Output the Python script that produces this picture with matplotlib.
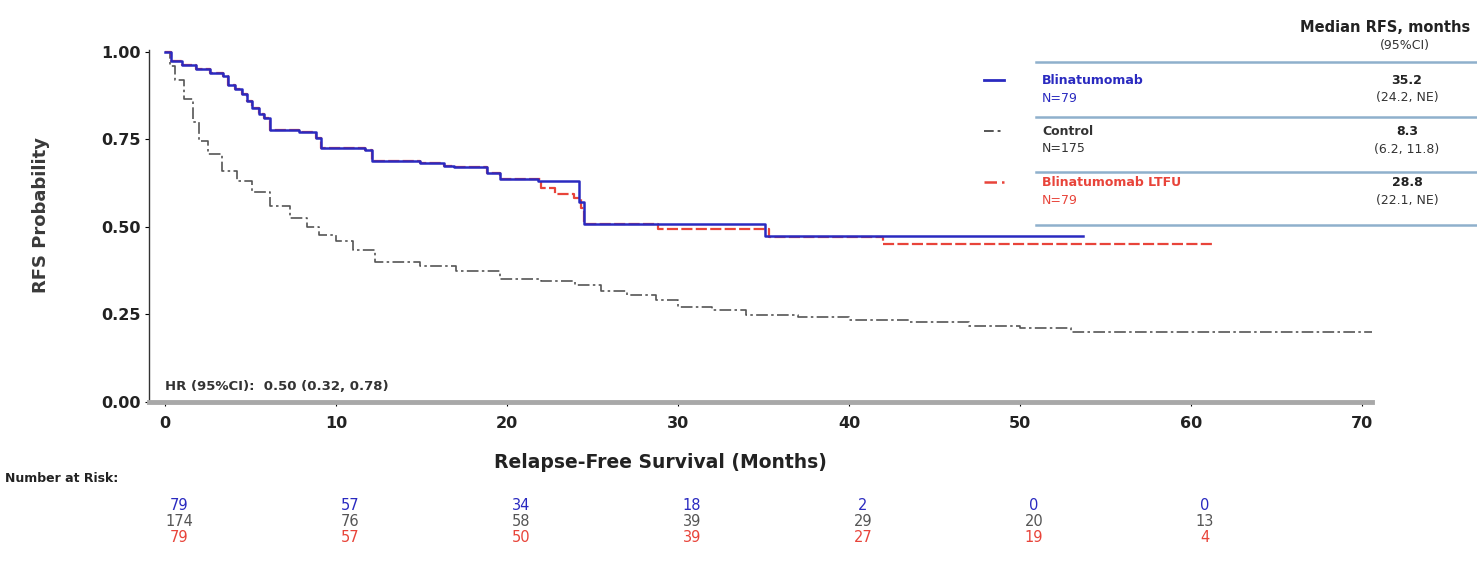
import matplotlib.pyplot as plt
from matplotlib.lines import Line2D

plt.rcParams['font.family'] = ['DejaVu Sans']

# Kaplan-Meier steps (months, RFS probability)
blina_t = [0, 0.35, 1.0, 1.8, 2.6, 3.4, 3.7, 4.1, 4.5, 4.8, 5.1, 5.5, 5.8, 6.1, 7.8, 8.8, 9.1,
           11.7, 12.1, 14.9, 16.3, 16.9, 18.8, 19.6, 21.8, 24.2, 24.5, 35.1, 53.7]
blina_s = [1.0, 0.975, 0.962, 0.95, 0.94, 0.93, 0.906, 0.893, 0.88, 0.86, 0.84, 0.823, 0.81,
           0.778, 0.772, 0.753, 0.724, 0.72, 0.688, 0.682, 0.675, 0.67, 0.655, 0.636, 0.631,
           0.57, 0.508, 0.475, 0.475]

ltfu_t = [0, 0.35, 1.0, 1.8, 2.6, 3.4, 3.7, 4.1, 4.5, 4.8, 5.1, 5.5, 5.8, 6.1, 7.8, 8.8, 9.1,
          11.7, 12.1, 14.9, 16.3, 16.9, 18.8, 19.6, 22.0, 22.8, 23.9, 24.35, 24.5,
          28.8, 35.3, 42.0, 61.4]
ltfu_s = [1.0, 0.975, 0.962, 0.95, 0.94, 0.93, 0.906, 0.893, 0.88, 0.86, 0.84, 0.823, 0.81,
          0.778, 0.772, 0.753, 0.724, 0.72, 0.688, 0.682, 0.675, 0.67, 0.655, 0.636, 0.611,
          0.594, 0.582, 0.554, 0.508, 0.494, 0.47, 0.45, 0.45]

ctrl_t = [0, 0.25, 0.6, 1.1, 1.6, 2.0, 2.5, 3.3, 4.2, 5.1, 6.1, 7.3, 8.3, 9.0, 10.0,
          11.0, 12.3, 14.9, 17.0, 19.6, 22.0, 24.0, 25.5, 27.0, 28.7, 30.0, 32.0, 34.0,
          37.0, 40.0, 43.5, 47.0, 50.0, 53.0, 70.8]
ctrl_s = [1.0, 0.96, 0.92, 0.866, 0.80, 0.745, 0.707, 0.66, 0.63, 0.60, 0.56, 0.526, 0.50,
          0.478, 0.46, 0.435, 0.40, 0.387, 0.375, 0.352, 0.345, 0.335, 0.318, 0.305, 0.29,
          0.272, 0.262, 0.247, 0.243, 0.233, 0.227, 0.217, 0.21, 0.20, 0.20]

risk_times = [0, 10, 20, 30, 40, 50, 60]
risk_blina = [79, 57, 34, 18, 2, 0, 0]
risk_ctrl = [174, 76, 58, 39, 29, 20, 13]
risk_ltfu = [79, 57, 50, 39, 27, 19, 4]

groups = ['Blinatumomab', 'Control', 'Blinatumomab LTFU']
group_n = ['N=79', 'N=175', 'N=79']
medians = ['35.2', '8.3', '28.8']
median_ci = ['(24.2, NE)', '(6.2, 11.8)', '(22.1, NE)']

BLUE = '#2a2ac0'
GRAY = '#555555'
RED = '#e8443a'
W, H = 1477, 571


def fx(px):
    return px / W


def fy(py):
    return 1 - py / H


fig = plt.figure(figsize=(W / 100, H / 100), dpi=100)
AX_L, AX_R = 149, 1372
ax = fig.add_axes([fx(AX_L), fy(402), fx(AX_R) - fx(AX_L), fy(50) - fy(402)])

ax.step(ctrl_t, ctrl_s, where='post', color=GRAY, lw=1.2,
        linestyle=(0, (7, 2, 1.5, 2)))
ax.step(ltfu_t, ltfu_s, where='post', color=RED, lw=1.6,
        linestyle=(0, (5, 1.5)))
ax.step(blina_t, blina_s, where='post', color=BLUE, lw=1.8)

ax.set_xlim(-0.95, 70.6)
ax.set_ylim(0, 1.005)
ax.set_xticks(range(0, 71, 10))
ax.set_yticks([0, 0.25, 0.5, 0.75, 1.0])
ax.set_yticklabels(['0.00', '0.25', '0.50', '0.75', '1.00'])
ax.tick_params(labelsize=11.5, length=3, width=0.8)
ax.tick_params(axis='y', pad=3)
ax.tick_params(axis='x', pad=7)
for lab in ax.get_xticklabels() + ax.get_yticklabels():
    lab.set_fontweight('bold')
    lab.set_color('#222222')
for s in ['top', 'right']:
    ax.spines[s].set_visible(False)
ax.spines['bottom'].set_color('#a8a8a8')
ax.spines['bottom'].set_linewidth(3.5)
ax.spines['left'].set_color('#333333')
ax.spines['left'].set_linewidth(1)

AX_W = AX_R - AX_L
ax.set_xlabel('Relapse-Free Survival (Months)', fontsize=13.5, fontweight='bold',
              color='#222222')
ax.xaxis.set_label_coords((660 - AX_L) / AX_W, (402 - 453) / 352)
ax.set_ylabel('RFS Probability', fontsize=13, fontweight='bold', color='#3a3a3a')
ax.yaxis.set_label_coords((50 - AX_L) / AX_W, (402 - 215) / 352)
ax.text(0, 0.035, 'HR (95%CI):  0.50 (0.32, 0.78)', fontsize=9.5, fontweight='bold',
        color='#333333', transform=ax.transData)

# number at risk table
fig.text(fx(5), fy(478), 'Number at Risk:', fontsize=9, fontweight='bold',
         color='#222222', va='center')
for vals, col, py in [(risk_blina, BLUE, 505), (risk_ctrl, GRAY, 521), (risk_ltfu, RED, 537)]:
    for t, v in zip(risk_times, vals):
        px = ax.transData.transform((t, 0))[0]
        fig.text((px + 14) / W, fy(py), str(v), fontsize=10.5, color=col,
                 ha='center', va='center')

# median RFS legend table
fig.text(fx(1300), fy(28), 'Median RFS, months', fontsize=10.5, fontweight='bold',
         color='#222222', va='center')
fig.text(fx(1405), fy(45), '(95%CI)', fontsize=9, color='#333333', ha='center', va='center')
for py in [62, 117, 172, 225]:
    fig.add_artist(Line2D([fx(1036), 1.0], [fy(py), fy(py)], color='#8fb0cc', lw=1.8))

row_y = [80, 131, 182]
name_cols = [BLUE, '#333333', RED]
samples = [dict(color=BLUE, lw=2, linestyle='-'),
           dict(color=GRAY, lw=1.4, linestyle=(0, (5, 2, 1.5, 2))),
           dict(color=RED, lw=1.8, linestyle=(0, (5, 2)))]
for i in range(3):
    py = row_y[i]
    fig.add_artist(Line2D([fx(984), fx(1004)], [fy(py), fy(py)], **samples[i]))
    fig.text(fx(1042), fy(py), groups[i], fontsize=9, fontweight='bold',
             color=name_cols[i], va='center')
    fig.text(fx(1042), fy(py + 18), group_n[i], fontsize=9, color=name_cols[i], va='center')
    fig.text(fx(1407), fy(py), medians[i], fontsize=9, fontweight='bold',
             color='#222222', ha='center', va='center')
    fig.text(fx(1407), fy(py + 18), median_ci[i], fontsize=9, color='#333333',
             ha='center', va='center')

fig.savefig('out.png', dpi=100)
